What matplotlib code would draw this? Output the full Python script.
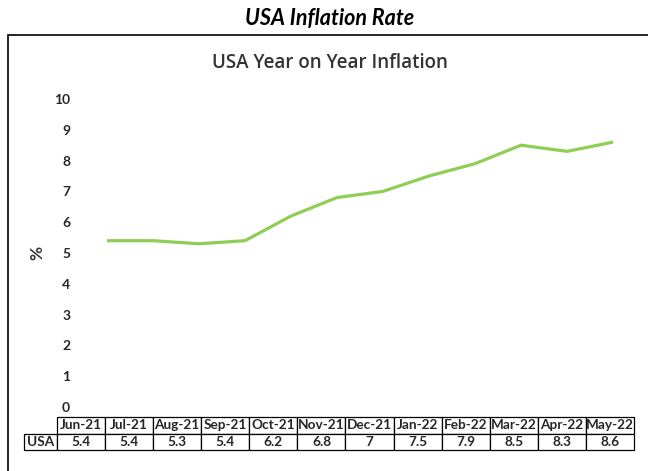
import matplotlib.pyplot as plt
from matplotlib.patches import Rectangle

months = ["Jun-21", "Jul-21", "Aug-21", "Sep-21", "Oct-21", "Nov-21",
          "Dec-21", "Jan-22", "Feb-22", "Mar-22", "Apr-22", "May-22"]
usa = [5.4, 5.4, 5.3, 5.4, 6.2, 6.8, 7.0, 7.5, 7.9, 8.5, 8.3, 8.6]
yticks = [0, 1, 2, 3, 4, 5, 6, 7, 8, 9, 10]

LINE = "#8FCE55"
TEXT = "#333333"
FONT = ["Lato", "DejaVu Sans"]

plt.rcParams["font.family"] = FONT

W, H = 648, 471
fig = plt.figure(figsize=(W / 100, H / 100), dpi=100)
fig.patch.set_facecolor("white")


def fx(px):
    return px / W


def fy(py):
    return 1 - py / H


# outer frame running off the right and bottom edges
fig.patches.append(Rectangle((fx(8), fy(475)), fx(700), fy(35) - fy(475),
                             transform=fig.transFigure, fill=False,
                             edgecolor="black", linewidth=1.2))
fig.text(fx(330), fy(18), "USA Inflation Rate", ha="center", va="center",
         fontsize=15.5, weight="bold", style="italic", color="black")
fig.text(fx(330), fy(63), "USA Year on Year Inflation", ha="center",
         va="center", fontsize=13.5, weight="semibold", color=TEXT,
         family=["Open Sans", "DejaVu Sans"])

# plot area
ax = fig.add_axes([fx(84), fy(407), fx(552), fy(99) - fy(407)])
x = list(range(len(months)))
ax.plot(x, usa, color=LINE, linewidth=2.3, solid_capstyle="butt")
ax.set_xlim(-0.5, 11.5)
ax.set_ylim(0, 10)
ax.set_yticks(yticks)
ax.set_yticklabels([str(t) for t in yticks], fontsize=10, weight="bold",
                   color="#262626")
ax.tick_params(axis="y", length=0, pad=10)
ax.set_xticks([])
for s in ax.spines.values():
    s.set_visible(False)
ax.patch.set_alpha(0)
fig.text(fx(37), fy(253), "%", rotation=90, ha="center", va="center",
         fontsize=12.5, weight="bold", color=TEXT)

# data table under the plot
tax = fig.add_axes([fx(24), fy(450), fx(634 - 24), fy(417) - fy(450)])
tax.axis("off")
cells = [[""] + months, ["USA"] + [f"{v:g}" for v in usa]]
widths = [33] + [48.1] * len(months)
tbl = tax.table(cellText=cells, colWidths=widths, cellLoc="center",
                bbox=[0, 0, 1, 1])
tbl.auto_set_font_size(False)
for (r, c), cell in tbl.get_celld().items():
    cell.set_linewidth(0.9)
    cell.set_edgecolor("black")
    cell.get_text().set_fontsize(9.8)
    cell.get_text().set_weight("bold")
    cell.get_text().set_color("#262626")
    if r == 0 and c == 0:
        cell.visible_edges = ""

fig.savefig("out.png", dpi=100)
